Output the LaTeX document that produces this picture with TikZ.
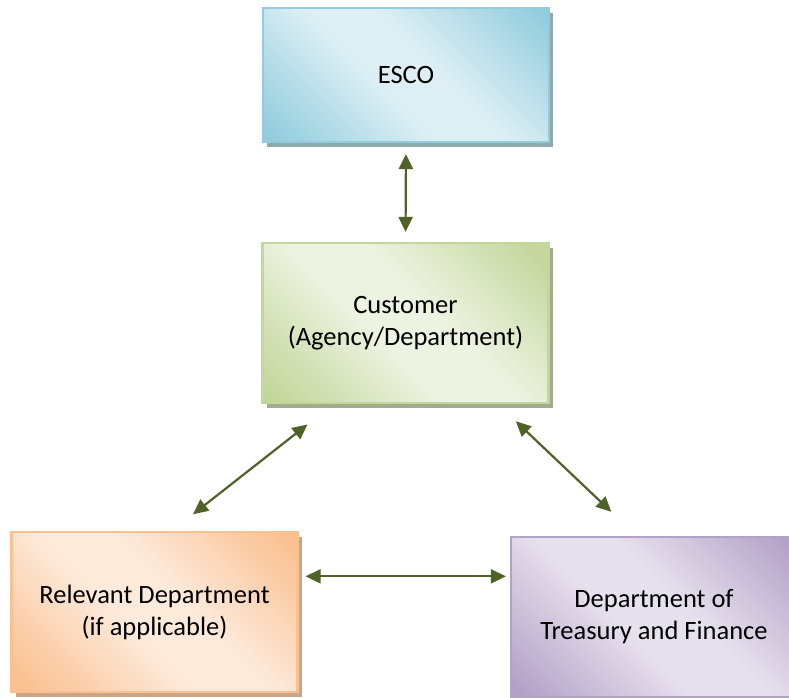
\documentclass[tikz,border=0pt]{standalone}
\usepackage{fontspec}
\setmainfont{Carlito}
\usetikzlibrary{arrows.meta,calc,shadows}

% Colori
\definecolor{escoscuro}{HTML}{93CDDD}
\definecolor{escochiaro}{HTML}{DDEFF5}
\definecolor{escoombra}{HTML}{8FA9AE}
\definecolor{custscuro}{HTML}{C3D69B}
\definecolor{custchiaro}{HTML}{EDF3E1}
\definecolor{custombra}{HTML}{A0AC8C}
\definecolor{relscuro}{HTML}{FAC090}
\definecolor{relchiaro}{HTML}{FDEADB}
\definecolor{relombra}{HTML}{C9A68A}
\definecolor{dtfscuro}{HTML}{B3A2C7}
\definecolor{dtfchiaro}{HTML}{E7E1ED}
\definecolor{freccia}{HTML}{4F6228}

% Sfumatura diagonale: scuro negli angoli, chiaro al centro
\colorlet{scuro}{gray}
\colorlet{chiaro}{white}
\pgfdeclarehorizontalshading[scuro,chiaro]{lucido}{100bp}{
  color(0bp)=(scuro); color(17bp)=(scuro); color(44bp)=(chiaro);
  color(56bp)=(chiaro); color(83bp)=(scuro); color(100bp)=(scuro)}

\tikzset{
  riquadro/.style n args={3}{draw=#1, line width=2.2pt,
    /utils/exec={\colorlet{scuro}{#1}\colorlet{chiaro}{#2}},
    shade, shading=lucido, shading angle=45,
    drop shadow={fill=#3, opacity=1, shadow xshift=4pt, shadow yshift=-5pt},
    minimum width=286pt, minimum height=160pt, align=center,
    font=\fontsize{26.5}{32}\selectfont},
  legame/.style={{Triangle[length=15pt,width=14pt]}-{Triangle[length=15pt,width=14pt]},
    line width=2.2pt, draw=freccia},
}

\begin{document}
\begin{tikzpicture}[x=1pt, y=-1pt]
    \clip (0,0) rectangle (789,697);
    \fill[white] (0,0) rectangle (789,697);

    % Riquadri
    \node[riquadro={escoscuro}{escochiaro}{escoombra}, minimum height=134pt] (esco) at (406,75) {ESCO};
    \node[riquadro={custscuro}{custchiaro}{custombra}] (cust) at (405.5,323) {Customer\\(Agency/Department)};
    \node[riquadro={relscuro}{relchiaro}{relombra}] (rel) at (154.5,612) {Relevant Department\\(if applicable)};
    \node[riquadro={dtfscuro}{dtfchiaro}{gray!50}] (dtf) at (654,617) {Department of\\Treasury and Finance};

    % Frecce
    \draw[legame, shorten <=11pt, shorten >=10pt] (esco.south) -- (cust.north);
    \draw[legame, shorten <=33pt, shorten >=27pt]
      ($(cust.south west)!0.25!(cust.south east)$) -- ($(rel.north west)!0.56!(rel.north east)$);
    \draw[legame, shorten <=25pt, shorten >=35pt]
      ($(cust.south west)!0.82!(cust.south east)$) -- ($(dtf.north west)!0.44!(dtf.north east)$);
    \coordinate (orizz) at ($(rel.north east)!0.28!(rel.south east)$);
    \draw[legame, shorten <=7pt, shorten >=4pt] (orizz) -- (orizz -| dtf.west);
\end{tikzpicture}
\end{document}
